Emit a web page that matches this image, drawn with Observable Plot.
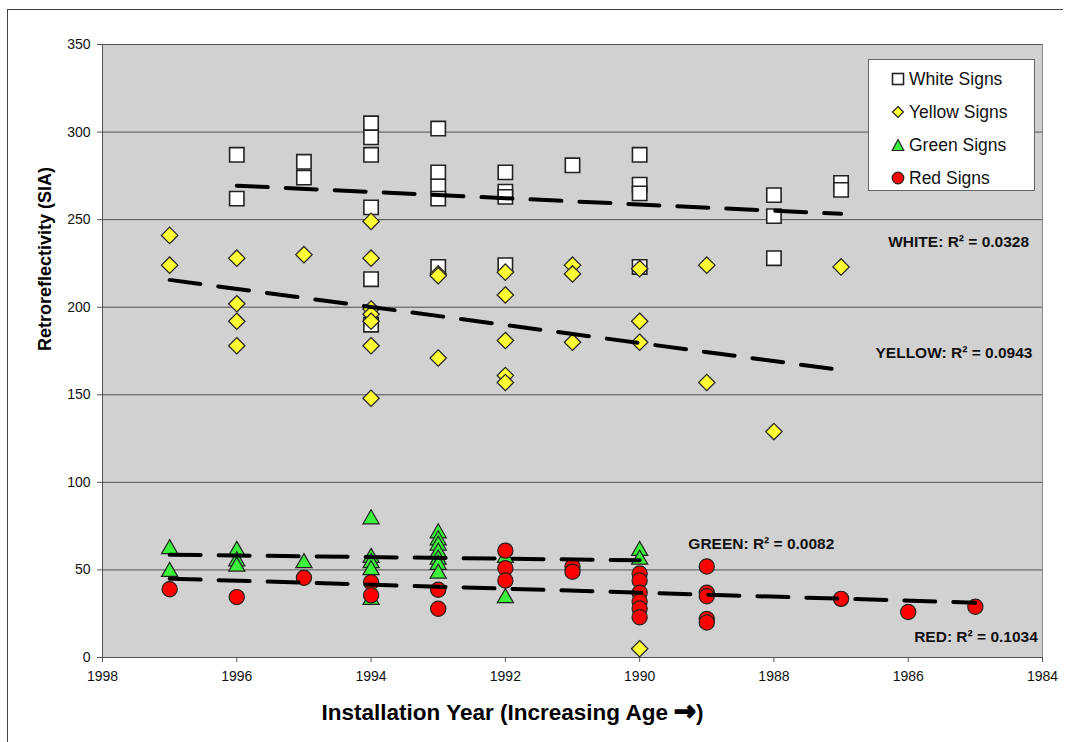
<!DOCTYPE html>
<html>
<head>
<meta charset="utf-8">
<script src="https://cdn.jsdelivr.net/npm/d3@7"></script>
<script src="https://cdn.jsdelivr.net/npm/@observablehq/plot@0.6"></script>
<style>
  body { margin: 0; background: #fff; font-family: "Liberation Sans", Arial, sans-serif; }
  #wrap { position: relative; width: 1065px; height: 742px; overflow: hidden; }
  .bt { position: absolute; left: 7px; top: 9px; width: 1056px; height: 0; border-top: 1px solid #444; }
  .bl { position: absolute; left: 7px; top: 9px; width: 0; height: 733px; border-left: 1px solid #444; }
  #legend { position: absolute; left: 868px; top: 59px; width: 167px; height: 132px; background: #fff;
            border: 1px solid #666; box-sizing: border-box; }
  .li { position: absolute; left: 22px; height: 20px; display: flex; align-items: center;
        font-size: 17.5px; color: #111; white-space: nowrap; }
  .li svg { margin-right: 4px; }
</style>
</head>
<body>
<div id="wrap">
  <div id="chart"></div>
  <div class="bt"></div>
  <div class="bl"></div>
  <div id="legend"></div>
</div>
<script>
// ---- data (installation year, retroreflectivity SIA) ----
const whiteSigns = [
  [1996, 287], [1996, 262],
  [1995, 283], [1995, 274],
  [1994, 305], [1994, 297], [1994, 287], [1994, 257], [1994, 216], [1994, 190],
  [1993, 302], [1993, 277], [1993, 269], [1993, 262], [1993, 223],
  [1992, 277], [1992, 266], [1992, 263], [1992, 224],
  [1991, 281],
  [1990, 287], [1990, 270], [1990, 265], [1990, 223],
  [1988, 264], [1988, 252], [1988, 228],
  [1987, 271], [1987, 267]
];
const yellowSigns = [
  [1997, 241], [1997, 224],
  [1996, 228], [1996, 202], [1996, 192], [1996, 178],
  [1995, 230],
  [1994, 249], [1994, 228], [1994, 199], [1994, 196], [1994, 192], [1994, 178], [1994, 148],
  [1993, 219], [1993, 218], [1993, 171],
  [1992, 220], [1992, 207], [1992, 181], [1992, 161], [1992, 157],
  [1991, 224], [1991, 219], [1991, 180],
  [1990, 222], [1990, 192], [1990, 180], [1990, 5],
  [1989, 224], [1989, 157],
  [1988, 129],
  [1987, 223]
];
const greenSigns = [
  [1997, 62], [1997, 49],
  [1996, 61], [1996, 55], [1996, 52],
  [1995, 54],
  [1994, 79], [1994, 57], [1994, 54], [1994, 50], [1994, 33],
  [1993, 71], [1993, 67], [1993, 64], [1993, 60], [1993, 56], [1993, 53], [1993, 48],
  [1992, 57], [1992, 34],
  [1990, 61], [1990, 56]
];
const redSigns = [
  [1997, 39],
  [1996, 34.5],
  [1995, 45.5],
  [1994, 43], [1994, 35.5],
  [1993, 38.7], [1993, 27.8],
  [1992, 61], [1992, 51], [1992, 44],
  [1991, 52], [1991, 49],
  [1990, 48], [1990, 44], [1990, 37], [1990, 32], [1990, 28], [1990, 23],
  [1989, 52], [1989, 37], [1989, 35], [1989, 22], [1989, 20],
  [1987, 33.5],
  [1986, 26],
  [1985, 29]
];
// trend line end points
const whiteTrend  = [[1996, 269.4], [1987, 253.3]];
const yellowTrend = [[1997, 215.6], [1987, 164.1]];
const greenTrend  = [[1997, 58.7], [1990, 55.5]];
const redTrend    = [[1997, 45.0], [1985, 31.3]];
// R² labels
const r2Labels = ["WHITE: R² = 0.0328", "YELLOW: R² = 0.0943", "GREEN: R² = 0.0082", "RED: R² = 0.1034"];
const xTicks = [1998, 1996, 1994, 1992, 1990, 1988, 1986, 1984];
const yTicks = [0, 50, 100, 150, 200, 250, 300, 350];
const seriesNames = ["White Signs", "Yellow Signs", "Green Signs", "Red Signs"];
const xTitle = "Installation Year (Increasing Age →)";
const yTitle = "Retroreflectivity (SIA)";

// ---- styles ----
const edge = "#222";
const dash = "31,18";

const annot = [
  {label: r2Labels[0], x: 1984.2, y: 237},
  {label: r2Labels[1], x: 1984.15, y: 174},
  {label: r2Labels[2], x: 1987.1, y: 65},
  {label: r2Labels[3], x: 1984.07, y: 11.5}
];

const chart = Plot.plot({
  width: 1065,
  height: 742,
  marginLeft: 102,
  marginRight: 23,
  marginTop: 44,
  marginBottom: 85,
  style: {fontFamily: "'Liberation Sans', Arial, sans-serif", fontSize: "14px", color: "#111", background: "transparent"},
  x: {domain: [1998, 1984], ticks: xTicks},
  y: {domain: [0, 350], ticks: yTicks},
  marks: [
    Plot.frame({fill: "#d1d1d1", stroke: "#8a8a8a"}),
    Plot.gridY(yTicks.slice(1), {stroke: "#505050", strokeOpacity: 1, strokeWidth: 1}),
    Plot.axisY({ticks: yTicks, tickSize: 5, tickPadding: 7, fontSize: 14, label: null, stroke: "#555"}),
    Plot.axisX({ticks: xTicks, tickSize: 5, tickPadding: 9, fontSize: 14, label: null, tickFormat: d => String(d), stroke: "#555"}),
    Plot.ruleX([1998], {stroke: "#555"}),
    Plot.ruleY([0], {stroke: "#555"}),
    Plot.dot(whiteSigns, {x: d => d[0], y: d => d[1], symbol: "square", r: 8.1, fill: "#ffffff", stroke: edge, strokeWidth: 1.6}),
    Plot.dot(yellowSigns, {x: d => d[0], y: d => d[1], symbol: "diamond2", r: 7.4, fill: "#ffff33", stroke: edge, strokeWidth: 1.2}),
    Plot.dot(greenSigns, {x: d => d[0], y: d => d[1], symbol: "triangle", r: 6.0, fill: "#3cf03c", stroke: edge, strokeWidth: 1.2}),
    Plot.dot(redSigns, {x: d => d[0], y: d => d[1], symbol: "circle", r: 7.6, fill: "#ff0000", stroke: edge, strokeWidth: 1.2}),
    Plot.line(whiteTrend, {x: d => d[0], y: d => d[1], stroke: "#000", strokeWidth: 4, strokeDasharray: dash}),
    Plot.line(yellowTrend, {x: d => d[0], y: d => d[1], stroke: "#000", strokeWidth: 4, strokeDasharray: dash}),
    Plot.line(greenTrend, {x: d => d[0], y: d => d[1], stroke: "#000", strokeWidth: 4, strokeDasharray: dash}),
    Plot.line(redTrend, {x: d => d[0], y: d => d[1], stroke: "#000", strokeWidth: 4, strokeDasharray: dash}),
    Plot.text(annot, {x: "x", y: "y", text: "label", textAnchor: "end", fontSize: 15.5, fontWeight: "bold", fill: "#111"}),
    Plot.text([xTitle], {frameAnchor: "bottom", dx: -60, dy: 62, fontSize: 22.5, fontWeight: "bold", fill: "#000"}),
    Plot.text([yTitle], {frameAnchor: "left", dx: -57, rotate: -90, fontSize: 18, fontWeight: "bold", fill: "#000"})
  ]
});
document.getElementById("chart").appendChild(chart);

// render the arrow of the x title larger and heavier, as in the original
d3.select(chart).selectAll("text").each(function () {
  if (this.textContent === xTitle) {
    const t = d3.select(this);
    t.text(null);
    t.append("tspan").text(xTitle.slice(0, xTitle.indexOf("→")));
    t.append("tspan")
      .attr("font-family", "'DejaVu Sans'")
      .attr("font-weight", "bold")
      .style("font-size", "26px")
      .style("stroke", "#000")
      .style("stroke-width", "1.6px")
      .text("→");
    t.append("tspan").text(")");
  }
});

// ---- legend ----
const legendSymbols = [
  `<svg width="14" height="14"><rect x="1.5" y="1.5" width="11" height="11" fill="#fff" stroke="#222" stroke-width="1.6"/></svg>`,
  `<svg width="14" height="14"><path d="M7,1.5L12.5,7L7,12.5L1.5,7Z" fill="#ffff33" stroke="#222" stroke-width="1.2"/></svg>`,
  `<svg width="14" height="14"><path d="M7,1.5L12.8,12.5L1.2,12.5Z" fill="#3cf03c" stroke="#222" stroke-width="1.2"/></svg>`,
  `<svg width="14" height="14"><circle cx="7" cy="7" r="5.8" fill="#ff0000" stroke="#222" stroke-width="1.2"/></svg>`
];
const legend = document.getElementById("legend");
seriesNames.forEach((name, i) => {
  const row = document.createElement("div");
  row.className = "li";
  row.style.top = (9 + i * 33) + "px";
  row.innerHTML = legendSymbols[i] + "<span>" + name + "</span>";
  legend.appendChild(row);
});
</script>
</body>
</html>
